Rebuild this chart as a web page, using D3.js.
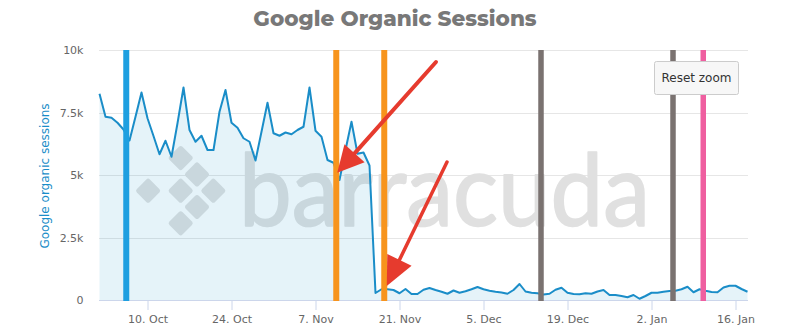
<!DOCTYPE html>
<html>
<head>
<meta charset="utf-8">
<script src="https://cdn.jsdelivr.net/npm/d3@7/dist/d3.min.js"></script>
<style>
  html, body { margin: 0; padding: 0; background: #fff; }
  svg { display: block; }
</style>
</head>
<body>
<svg id="chart" width="787" height="336"></svg>
<script>
// Daily Google organic sessions, starting on the first day below
const startDate = "2016-10-02";
const sessions = [
  8250, 7330, 7290, 7090, 6820, 6380, 7330, 8300, 7270, 6560,
  5830, 6370, 5730, 7070, 8500, 6800, 6330, 6570, 6000, 6000,
  7530, 8400, 7090, 6890, 6470, 6330, 5580, 6730, 7890, 6670,
  6570, 6700, 6630, 6800, 6930, 8500, 6770, 6530, 5600, 5490,
  4800, 6000, 7130, 5850, 5900, 5380, 280, 430, 430, 400,
  270, 440, 240, 240, 410, 480, 400, 330, 250, 380,
  290, 350, 430, 520, 430, 370, 330, 300, 250, 400,
  640, 340, 290, 270, 220, 250, 410, 490, 290, 240,
  230, 270, 250, 340, 400, 200, 200, 160, 110, 200,
  50, 160, 290, 290, 330, 360, 370, 430, 530, 310,
  430, 370, 320, 310, 500, 570, 570, 440, 330
];

// Event markers (site changes) on the timeline
const eventDates = [
  "2016-10-06T11:00Z", "2016-11-10T11:00Z", "2016-11-18T11:00Z",
  "2016-12-14T14:00Z", "2017-01-05T14:00Z", "2017-01-10T15:00Z"
];

// Axis ticks
const xTickDates = [
  "2016-10-10", "2016-10-24", "2016-11-07", "2016-11-21",
  "2016-12-05", "2016-12-19", "2017-01-02", "2017-01-16"
];
const yTickValues = [0, 2500, 5000, 7500, 10000];

// Callout arrows: tail and head given as [date, sessions]
const arrows = [
  { from: ["2016-11-27T02:00Z", 9520], to: ["2016-11-10T15:00Z", 5090] },
  { from: ["2016-11-28T22:00Z", 5520], to: ["2016-11-18T21:00Z", 560] }
];

const titleText = "Google Organic Sessions";
const yTitleText = "Google organic sessions";

// ---- styling ----
const eventColors = ["#1e9fe0", "#f7941d", "#f7941d", "#7a7270", "#7a7270", "#ef5fa0"];
const eventWidths = [6, 6, 6, 5.5, 5.5, 5.5];
const lineColor = "#1a8dc8";
const arrowColor = "#e63b2e";
const watermarkColor = "#e0e0e0";

const svg = d3.select("#chart");
const plot = { left: 99.5, right: 747.5, top: 50, bottom: 300 };

const t0 = new Date(startDate + "T00:00Z");
const points = sessions.map((v, i) => ({ date: d3.utcDay.offset(t0, i), value: v }));

const x = d3.scaleUtc()
  .domain([points[0].date, points[points.length - 1].date])
  .range([plot.left, plot.right]);
const y = d3.scaleLinear().domain([0, 10000]).range([plot.bottom, plot.top]);

// Title
svg.append("text")
  .attr("x", 395).attr("y", 26)
  .attr("text-anchor", "middle")
  .attr("font-family", "Montserrat, 'Open Sans', sans-serif")
  .attr("font-weight", 800)
  .attr("font-size", 21.5)
  .attr("fill", "#787878")
  .text(titleText);

// Horizontal grid
svg.append("g")
  .selectAll("line")
  .data(yTickValues.filter(v => v > 0))
  .join("line")
  .attr("x1", plot.left - 0.5).attr("x2", plot.right + 0.5)
  .attr("y1", d => Math.round(y(d)) + 0.5).attr("y2", d => Math.round(y(d)) + 0.5)
  .attr("stroke", "#e6e6e6").attr("stroke-width", 1);

// Watermark: diamond logo and wordmark
const wm = svg.append("g");
const logoCx = 180.7, logoCy = 190.7, logoStep = 16.3, half = 13;
const logoCells = [[0, -2], [1, -1], [-2, 0], [0, 0], [2, 0], [1, 1], [0, 2]];
const side = half * Math.SQRT2;
wm.selectAll("rect")
  .data(logoCells)
  .join("rect")
  .attr("x", -side / 2)
  .attr("y", -side / 2)
  .attr("width", side)
  .attr("height", side)
  .attr("rx", 2.5)
  .attr("transform", d => `translate(${logoCx + d[0] * logoStep},${logoCy + d[1] * logoStep}) rotate(45)`)
  .attr("fill", watermarkColor);
wm.append("text")
  .attr("x", 239).attr("y", 226)
  .attr("font-family", "Lato, 'DejaVu Sans', sans-serif")
  .attr("font-weight", 400)
  .attr("font-size", 100)
  .attr("textLength", 411)
  .attr("lengthAdjust", "spacingAndGlyphs")
  .attr("fill", watermarkColor)
  .attr("stroke", watermarkColor)
  .attr("stroke-width", 1.6)
  .attr("stroke-linejoin", "round")
  .text("barracuda");

// Area + line
const area = d3.area()
  .x(d => x(d.date))
  .y0(y(0))
  .y1(d => y(d.value));
const line = d3.line()
  .x(d => x(d.date))
  .y(d => y(d.value));

svg.append("path")
  .datum(points)
  .attr("d", area)
  .attr("fill", "rgb(0,140,200)")
  .attr("fill-opacity", 0.1);

svg.append("path")
  .datum(points)
  .attr("d", line)
  .attr("fill", "none")
  .attr("stroke", lineColor)
  .attr("stroke-width", 2)
  .attr("stroke-linejoin", "round");

// X axis
const xAxis = d3.axisBottom(x)
  .tickValues(xTickDates.map(s => new Date(s + "T00:00Z")))
  .tickFormat(d3.utcFormat("%-d. %b"))
  .tickSizeOuter(0)
  .tickSize(10)
  .tickPadding(5);
const gx = svg.append("g")
  .attr("transform", `translate(0,${plot.bottom})`)
  .call(xAxis);
gx.select(".domain")
  .attr("d", `M${plot.left - 0.5},0.5H${plot.right + 0.5}`)
  .attr("stroke", "#ccd6eb");
gx.selectAll(".tick line").attr("stroke", "#ccd6eb").attr("y1", 0.5);
gx.selectAll(".tick text")
  .attr("fill", "#666666")
  .attr("font-family", "'DejaVu Sans', Verdana, sans-serif")
  .attr("font-size", 11);

// Y axis labels
const yAxis = d3.axisLeft(y)
  .tickValues(yTickValues)
  .tickFormat(v => v === 0 ? "0" : (v / 1000) + "k")
  .tickSize(0)
  .tickPadding(16);
const gy = svg.append("g")
  .attr("transform", `translate(${plot.left},0)`)
  .call(yAxis);
gy.select(".domain").remove();
gy.selectAll(".tick text")
  .attr("fill", "#666666")
  .attr("font-family", "'DejaVu Sans', Verdana, sans-serif")
  .attr("font-size", 11);

svg.append("text")
  .attr("transform", "translate(45,176) rotate(-90)")
  .attr("text-anchor", "middle")
  .attr("dominant-baseline", "central")
  .attr("font-family", "'DejaVu Sans', Verdana, sans-serif")
  .attr("font-size", 12)
  .attr("fill", "#1a8dc8")
  .text(yTitleText);

// Event lines
svg.append("g")
  .selectAll("line")
  .data(eventDates)
  .join("line")
  .attr("x1", d => x(new Date(d))).attr("x2", d => x(new Date(d)))
  .attr("y1", plot.top).attr("y2", plot.bottom + 1)
  .attr("stroke", (d, i) => eventColors[i])
  .attr("stroke-width", (d, i) => eventWidths[i]);

// Reset zoom button
const btn = svg.append("g").attr("transform", "translate(654.5,61.5)");
btn.append("rect")
  .attr("width", 84).attr("height", 33).attr("rx", 2)
  .attr("fill", "#f7f7f7").attr("stroke", "#cccccc");
btn.append("text")
  .attr("x", 42).attr("y", 16.5)
  .attr("text-anchor", "middle")
  .attr("dominant-baseline", "central")
  .attr("font-family", "'DejaVu Sans', Verdana, sans-serif")
  .attr("font-size", 12)
  .attr("fill", "#333333")
  .text("Reset zoom");

// Callout arrows
const ag = svg.append("g");
arrows.forEach((a, i) => {
  const x1 = x(new Date(a.from[0])), y1 = y(a.from[1]);
  const x2 = x(new Date(a.to[0])), y2 = y(a.to[1]);
  const ang = Math.atan2(y2 - y1, x2 - x1);
  const headLen = i === 0 ? 26 : 29, headHalf = 13.5;
  const bx = x2 - headLen * Math.cos(ang), by = y2 - headLen * Math.sin(ang);
  const nx = -Math.sin(ang), ny = Math.cos(ang);
  ag.append("line")
    .attr("x1", x1).attr("y1", y1)
    .attr("x2", bx + 2 * Math.cos(ang)).attr("y2", by + 2 * Math.sin(ang))
    .attr("stroke", arrowColor)
    .attr("stroke-width", i === 0 ? 4 : 3.5)
    .attr("stroke-linecap", "round");
  ag.append("path")
    .attr("d", `M${x2},${y2}L${bx + nx * headHalf},${by + ny * headHalf}L${bx - nx * headHalf},${by - ny * headHalf}Z`)
    .attr("fill", arrowColor);
});
</script>
</body>
</html>
